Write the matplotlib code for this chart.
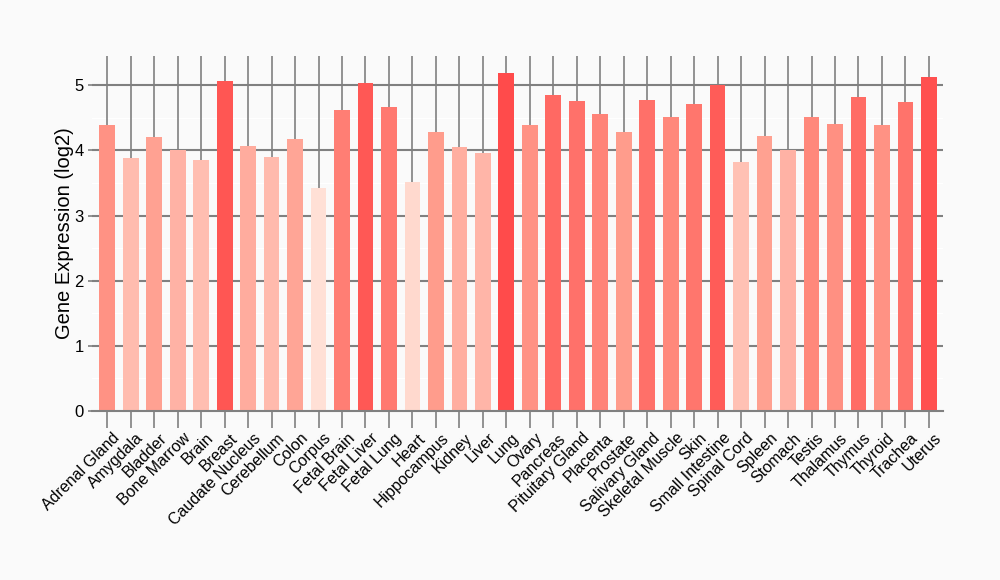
import numpy as np
import matplotlib.pyplot as plt
from matplotlib.colors import LinearSegmentedColormap, Normalize
from matplotlib.transforms import ScaledTranslation

tejidos = ["Adrenal Gland", "Amygdala", "Bladder", "Bone Marrow", "Brain", "Breast",
           "Caudate Nucleus", "Cerebellum", "Colon", "Corpus", "Fetal Brain", "Fetal Liver",
           "Fetal Lung", "Heart", "Hippocampus", "Kidney", "Liver", "Lung", "Ovary",
           "Pancreas", "Pituitary Gland", "Placenta", "Prostate", "Salivary Gland",
           "Skeletal Muscle", "Skin", "Small Intestine", "Spinal Cord", "Spleen", "Stomach",
           "Testis", "Thalamus", "Thymus", "Thyroid", "Trachea", "Uterus"]
expresion = [4.39, 3.88, 4.21, 4.00, 3.85, 5.07,
             4.07, 3.90, 4.17, 3.42, 4.62, 5.04,
             4.67, 3.51, 4.28, 4.05, 3.96, 5.19, 4.39,
             4.85, 4.76, 4.56, 4.28, 4.77,
             4.51, 4.71, 5.00, 3.82, 4.22, 4.00,
             4.51, 4.41, 4.82, 4.39, 4.74, 5.13]
yticks = [0, 1, 2, 3, 4, 5]

plt.rcParams['font.family'] = ['Liberation Sans', 'DejaVu Sans']

fondo = '#fafafa'
gris = '#808080'
cmap = LinearSegmentedColormap.from_list('rojos', ['#ffe0d6', '#ff9a8a', '#ff4b4b'])
norma = Normalize(min(expresion), max(expresion))
colores = [cmap(norma(v)) for v in expresion]

fig = plt.figure(figsize=(10, 5.8), dpi=100, facecolor=fondo)
ax = fig.add_axes([0.092, 0.2914, 0.851, 0.612])
ax.set_facecolor(fondo)

x = np.arange(len(tejidos))
ax.bar(x, expresion, width=0.67, color=colores, zorder=3)

ax.set_xlim(-0.65, len(tejidos) - 0.4)
ax.set_ylim(0, 5.45)

# rejilla
for v in np.arange(0.5, 5.5, 1.0):
    ax.axhline(v, color='white', lw=1.0, zorder=1)
for v in yticks[1:]:
    ax.axhline(v, color=gris, lw=1.5, zorder=2)
for xi in x:
    ax.axvline(xi, color=gris, lw=1.2, zorder=2)

for s in ['top', 'right', 'left']:
    ax.spines[s].set_visible(False)
ax.spines['bottom'].set_color(gris)
ax.spines['bottom'].set_linewidth(1.5)
ax.spines['bottom'].set_zorder(4)

ax.set_yticks(yticks)
ax.set_yticklabels([str(t) for t in yticks], fontsize=12)
ax.tick_params(axis='y', length=3, width=1.2, color=gris, pad=3)
ax.set_xticks(x)
ax.set_xticklabels(tejidos, rotation=45, ha='right', rotation_mode='anchor', fontsize=11.5)
ax.tick_params(axis='x', length=12, width=1.2, color=gris, pad=2)
desplazar = ScaledTranslation(5 / 100, 0, fig.dpi_scale_trans)
for etiqueta in ax.get_xticklabels():
    etiqueta.set_transform(etiqueta.get_transform() + desplazar)

ax.set_ylabel('Gene Expression (log2)', fontsize=14.5, labelpad=0)

fig.savefig('out.png', dpi=100, facecolor=fondo)
